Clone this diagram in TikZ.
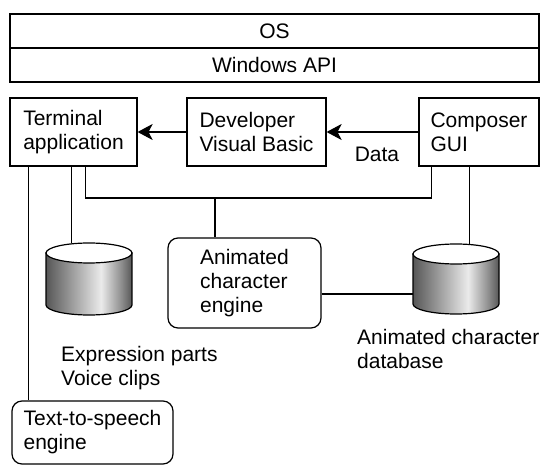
\documentclass[tikz,border=0pt]{standalone}
\usepackage{fontspec}
\setmainfont{Liberation Sans}
\usetikzlibrary{arrows.meta}
\pgfdeclarehorizontalshading{cylshade}{100bp}{color(0bp)=(black!66); color(25bp)=(black!66); color(57bp)=(black!8); color(69bp)=(black!45); color(75bp)=(black!66); color(100bp)=(black!66)}
\newcommand\dbcyl[3]{%
  \shade[shading=cylshade, draw=black, line width=1.2pt] (#1-43,#2+10) -- (#1-43,#3-10)
    arc[start angle=180, end angle=0, x radius=43, y radius=10] -- (#1+43,#2+10) -- cycle;
  \draw[line width=1.2pt, fill=white] (#1,#2+10) ellipse[x radius=43, y radius=10];}
\tikzset{
  box/.style={draw=black, line width=1.2pt, inner sep=0pt, align=left, font=\fontsize{21}{24}\selectfont},
  rbox/.style={box, rounded corners=10pt},
  lbl/.style={inner sep=0pt, align=left, font=\fontsize{21}{24}\selectfont},
  conn/.style={line width=1.2pt, draw=black},
  arr/.style={conn, -{Stealth[length=15pt, width=16pt, inset=4pt]}}
}
\begin{document}
\begin{tikzpicture}[x=1pt, y=-1pt]
\useasboundingbox (0,0) rectangle (544,465);
% top bars
\node[box, minimum width=529pt, minimum height=34pt] (os) at (274.5,31) {OS};
\node[box, minimum width=529pt, minimum height=34pt] (api) at (274.5,65) {Windows API};
% main boxes
\node[box, minimum width=127pt, minimum height=68pt] (term) at (73.5,132) {Terminal\\application};
\node[box, minimum width=139pt, minimum height=68pt] (dev) at (256.5,132) {Developer\\Visual Basic};
\node[box, minimum width=120pt, minimum height=68pt] (comp) at (479,132) {Composer\\GUI};
\node[rbox, minimum width=153pt, minimum height=90pt] (engine) at (244.5,283) {Animated\\character\\engine};
\node[rbox, minimum width=161pt, minimum height=63pt] (tts) at (92.5,432.5) {Text-to-speech\\engine};
% databases
\dbcyl{89}{243}{315}
\dbcyl{456}{244}{314}
\node[inner sep=0pt, minimum width=86pt, minimum height=72pt] (db1) at (89,279) {};
\node[inner sep=0pt, minimum width=86pt, minimum height=70pt] (db2) at (456,279) {};
% labels
\node[lbl] (data) at (377,154) {Data};
\node[lbl, anchor=north west] (expr) at (61,346) {Expression parts\\Voice clips};
\node[lbl, anchor=north west] (dblbl) at (357,329) {Animated character\\database};
% arrows
\draw[arr] (dev.west) -- (term.east);
\draw[arr] (comp.west) -- (dev.east);
% connectors
\coordinate (t1) at ([xshift=19pt]term.south west);
\coordinate (t2) at ([xshift=62pt]term.south west);
\coordinate (t3) at ([xshift=76pt]term.south west);
\coordinate (c1) at ([xshift=13pt]comp.south west);
\coordinate (c2) at ([xshift=51pt]comp.south west);
\coordinate (j) at (215,198);
\coordinate (e1) at ([yshift=-11pt]engine.east);
\draw[conn] (t1) -- (t1 |- tts.north);
\draw[conn] (t2) -- (t2 |- db1.north);
\draw[conn] (t3) |- (j) -| (c1);
\draw[conn] (j) -- (j |- engine.north);
\draw[conn] (c2) -- (c2 |- db2.north);
\draw[conn] (e1) -- (e1 -| db2.west);
\end{tikzpicture}
\end{document}
